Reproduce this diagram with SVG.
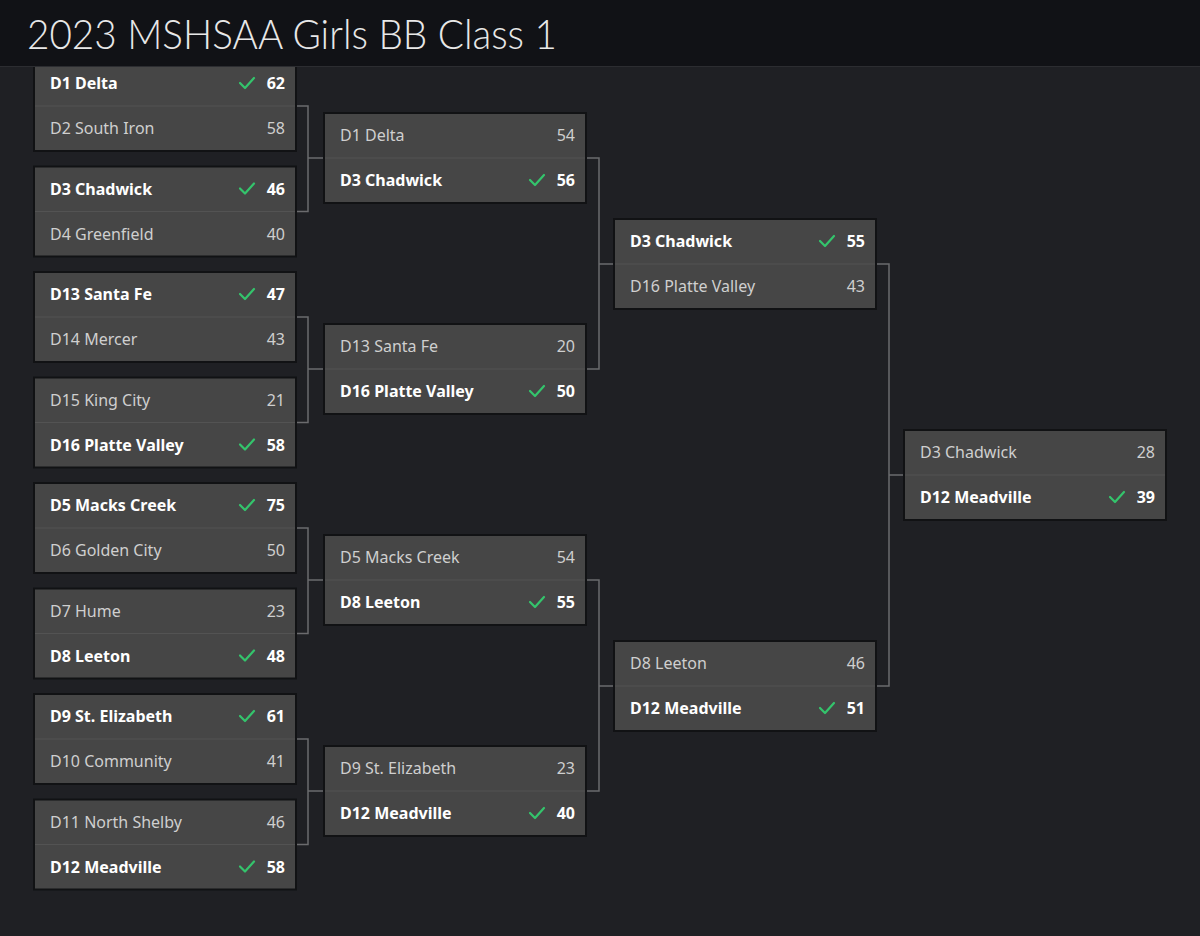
<svg xmlns="http://www.w3.org/2000/svg" width="1200" height="936" viewBox="0 0 1200 936">
<defs>
<style>
.bg{fill:#1f2024}
.box{fill:#464646;stroke:#111214;stroke-width:2}
.div{stroke:#535353;stroke-width:1}
.t{font-family:"Noto Sans",sans-serif;font-size:16px}
.l{fill:#cfcfcf;font-weight:400}
.w{fill:#ffffff;font-weight:700}
.s{text-anchor:end}
.ck{fill:none;stroke:#34c46c;stroke-width:2.2;stroke-linecap:round;stroke-linejoin:round}
.cn{fill:none;stroke:#6b6b6e;stroke-width:1.5}
.title{font-family:Lato,"Noto Sans",sans-serif;font-weight:300;font-size:42px;fill:#e8e8e8}
</style>
<path id="chk" class="ck" d="M-7,0 L-2,5 L7,-5"/>
</defs>
<rect class="bg" x="0" y="0" width="1200" height="936"/>

<g id="connectors">
<path class="cn" d="M296,106 H308 V211.5 H296 M308,158 H324"/>
<path class="cn" d="M296,317 H308 V422.5 H296 M308,369 H324"/>
<path class="cn" d="M296,528 H308 V633.5 H296 M308,580 H324"/>
<path class="cn" d="M296,739 H308 V844.5 H296 M308,791 H324"/>
<path class="cn" d="M586,158 H599 V369 H586 M599,264 H614"/>
<path class="cn" d="M586,580 H599 V791 H586 M599,686 H614"/>
<path class="cn" d="M876,264 H889 V686 H876 M889,475 H904"/>
</g>

<g id="r1m1" transform="translate(34,61)">
<rect class="box" width="262" height="90"/><line class="div" x1="1" y1="45" x2="261" y2="45"/>
<text class="t w" x="16" y="28">D1 Delta</text><use href="#chk" x="213" y="22"/><text class="t w s" x="251" y="28">62</text>
<text class="t l" x="16" y="73">D2 South Iron</text><text class="t l s" x="251" y="73">58</text>
</g>
<g id="r1m2" transform="translate(34,166.5)">
<rect class="box" width="262" height="90"/><line class="div" x1="1" y1="45" x2="261" y2="45"/>
<text class="t w" x="16" y="28">D3 Chadwick</text><use href="#chk" x="213" y="22"/><text class="t w s" x="251" y="28">46</text>
<text class="t l" x="16" y="73">D4 Greenfield</text><text class="t l s" x="251" y="73">40</text>
</g>
<g id="r1m3" transform="translate(34,272)">
<rect class="box" width="262" height="90"/><line class="div" x1="1" y1="45" x2="261" y2="45"/>
<text class="t w" x="16" y="28">D13 Santa Fe</text><use href="#chk" x="213" y="22"/><text class="t w s" x="251" y="28">47</text>
<text class="t l" x="16" y="73">D14 Mercer</text><text class="t l s" x="251" y="73">43</text>
</g>
<g id="r1m4" transform="translate(34,377.5)">
<rect class="box" width="262" height="90"/><line class="div" x1="1" y1="45" x2="261" y2="45"/>
<text class="t l" x="16" y="28">D15 King City</text><text class="t l s" x="251" y="28">21</text>
<text class="t w" x="16" y="73">D16 Platte Valley</text><use href="#chk" x="213" y="67"/><text class="t w s" x="251" y="73">58</text>
</g>
<g id="r1m5" transform="translate(34,483)">
<rect class="box" width="262" height="90"/><line class="div" x1="1" y1="45" x2="261" y2="45"/>
<text class="t w" x="16" y="28">D5 Macks Creek</text><use href="#chk" x="213" y="22"/><text class="t w s" x="251" y="28">75</text>
<text class="t l" x="16" y="73">D6 Golden City</text><text class="t l s" x="251" y="73">50</text>
</g>
<g id="r1m6" transform="translate(34,588.5)">
<rect class="box" width="262" height="90"/><line class="div" x1="1" y1="45" x2="261" y2="45"/>
<text class="t l" x="16" y="28">D7 Hume</text><text class="t l s" x="251" y="28">23</text>
<text class="t w" x="16" y="73">D8 Leeton</text><use href="#chk" x="213" y="67"/><text class="t w s" x="251" y="73">48</text>
</g>
<g id="r1m7" transform="translate(34,694)">
<rect class="box" width="262" height="90"/><line class="div" x1="1" y1="45" x2="261" y2="45"/>
<text class="t w" x="16" y="28">D9 St. Elizabeth</text><use href="#chk" x="213" y="22"/><text class="t w s" x="251" y="28">61</text>
<text class="t l" x="16" y="73">D10 Community</text><text class="t l s" x="251" y="73">41</text>
</g>
<g id="r1m8" transform="translate(34,799.5)">
<rect class="box" width="262" height="90"/><line class="div" x1="1" y1="45" x2="261" y2="45"/>
<text class="t l" x="16" y="28">D11 North Shelby</text><text class="t l s" x="251" y="28">46</text>
<text class="t w" x="16" y="73">D12 Meadville</text><use href="#chk" x="213" y="67"/><text class="t w s" x="251" y="73">58</text>
</g>

<g id="r2m1" transform="translate(324,113)">
<rect class="box" width="262" height="90"/><line class="div" x1="1" y1="45" x2="261" y2="45"/>
<text class="t l" x="16" y="28">D1 Delta</text><text class="t l s" x="251" y="28">54</text>
<text class="t w" x="16" y="73">D3 Chadwick</text><use href="#chk" x="213" y="67"/><text class="t w s" x="251" y="73">56</text>
</g>
<g id="r2m2" transform="translate(324,324)">
<rect class="box" width="262" height="90"/><line class="div" x1="1" y1="45" x2="261" y2="45"/>
<text class="t l" x="16" y="28">D13 Santa Fe</text><text class="t l s" x="251" y="28">20</text>
<text class="t w" x="16" y="73">D16 Platte Valley</text><use href="#chk" x="213" y="67"/><text class="t w s" x="251" y="73">50</text>
</g>
<g id="r2m3" transform="translate(324,535)">
<rect class="box" width="262" height="90"/><line class="div" x1="1" y1="45" x2="261" y2="45"/>
<text class="t l" x="16" y="28">D5 Macks Creek</text><text class="t l s" x="251" y="28">54</text>
<text class="t w" x="16" y="73">D8 Leeton</text><use href="#chk" x="213" y="67"/><text class="t w s" x="251" y="73">55</text>
</g>
<g id="r2m4" transform="translate(324,746)">
<rect class="box" width="262" height="90"/><line class="div" x1="1" y1="45" x2="261" y2="45"/>
<text class="t l" x="16" y="28">D9 St. Elizabeth</text><text class="t l s" x="251" y="28">23</text>
<text class="t w" x="16" y="73">D12 Meadville</text><use href="#chk" x="213" y="67"/><text class="t w s" x="251" y="73">40</text>
</g>

<g id="r3m1" transform="translate(614,219)">
<rect class="box" width="262" height="90"/><line class="div" x1="1" y1="45" x2="261" y2="45"/>
<text class="t w" x="16" y="28">D3 Chadwick</text><use href="#chk" x="213" y="22"/><text class="t w s" x="251" y="28">55</text>
<text class="t l" x="16" y="73">D16 Platte Valley</text><text class="t l s" x="251" y="73">43</text>
</g>
<g id="r3m2" transform="translate(614,641)">
<rect class="box" width="262" height="90"/><line class="div" x1="1" y1="45" x2="261" y2="45"/>
<text class="t l" x="16" y="28">D8 Leeton</text><text class="t l s" x="251" y="28">46</text>
<text class="t w" x="16" y="73">D12 Meadville</text><use href="#chk" x="213" y="67"/><text class="t w s" x="251" y="73">51</text>
</g>

<g id="final" transform="translate(904,430)">
<rect class="box" width="262" height="90"/><line class="div" x1="1" y1="45" x2="261" y2="45"/>
<text class="t l" x="16" y="28">D3 Chadwick</text><text class="t l s" x="251" y="28">28</text>
<text class="t w" x="16" y="73">D12 Meadville</text><use href="#chk" x="213" y="67"/><text class="t w s" x="251" y="73">39</text>
</g>

<g id="header">
<rect x="0" y="0" width="1200" height="66" fill="#111216"/>
<line x1="0" y1="66.5" x2="1200" y2="66.5" stroke="#2c2d31" stroke-width="1"/>
<text class="title" x="27" y="49" textLength="530" lengthAdjust="spacingAndGlyphs">2023 MSHSAA Girls BB Class 1</text>
</g>
</svg>
